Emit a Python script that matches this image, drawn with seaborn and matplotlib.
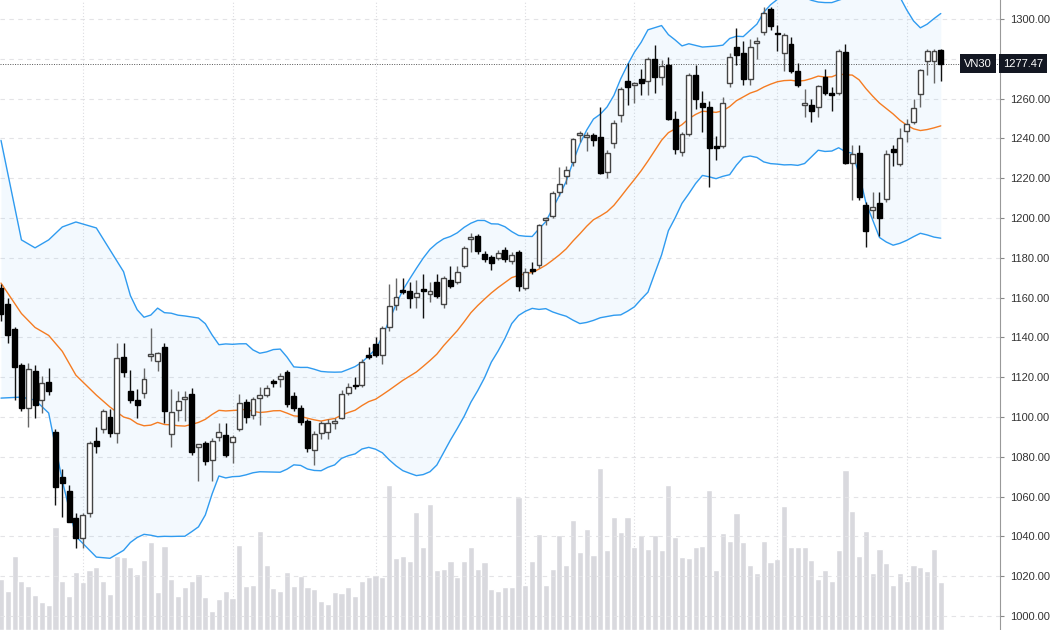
import numpy as np
import pandas as pd
import matplotlib
matplotlib.use("Agg")
import matplotlib.pyplot as plt
import seaborn as sns

opens = [1165,1157,1144,1126,1104.5,1123,1108.5,1117.5,1092.5,1070,1063,1049,1039,1052,1088,1094,1100,1092,1130,1113,
 1108.5,1112,1130.5,1128,1135,1091.5,1103.5,1109,1111.5,1085,1087,1078.5,1090,1091,1087.5,1094,1107.5,1101,1109.5,1111,
 1118,1119,1122.6,1110.5,1104.5,1098,1083.5,1092,1092.5,1097,1099.5,1112,1116,1116,1131,1136.7,1131,1145,1156.3,1164,
 1163.3,1160.3,1164.3,1161.8,1168,1157,1169,1168,1176,1189.5,1191,1182,1180.5,1180,1184,1178.4,1183,1164.8,1174,1176.4,
 1199,1201,1213,1221,1228,1241.7,1240.7,1241.7,1240.7,1223,1237.7,1251.8,1268.8,1267,1270,1269,1280,1271,1277,1249.7,
 1233,1242,1272,1258,1256,1235.7,1236,1268,1286,1283,1270,1288,1293.5,1305,1292.5,1283,1287.5,1274,1257,1257,
 1255.8,1271,1262.3,1262.8,1283.4,1227.6,1232.7,1206.5,1204,1207.5,1209.5,1234.7,1227,1243.7,1248,1262.3,1279,1279,1284.4]
highs = [1167,1160,1145,1127,1127,1126,1120.6,1124.6,1094,1074,1066,1052,1052,1088,1095,1104,1104,1137,1137,1123.6,
 1114,1124.6,1144.7,1132.5,1137,1114,1113,1113,1114.6,1086.5,1088,1089.5,1097,1097,1091,1111.5,1109,1110,1115,1116,
 1119,1122,1123.6,1112.5,1106,1099,1093,1098,1099,1099.5,1113.5,1117,1120,1129,1135,1140,1145.5,1167,1170,1170,
 1168,1169,1172,1168,1172,1171,1176,1176,1186,1192.5,1192,1183.5,1181.5,1184,1185.5,1183,1184,1175,1178,1197,
 1200.5,1213.5,1225.6,1226,1240,1243.5,1243,1242.5,1255.8,1234,1249,1266,1278,1268.5,1275,1281,1287,1279.5,1281,1254,
 1243,1273,1277,1264,1259,1241,1261,1283,1295.5,1289,1290,1291,1306,1306,1297,1293,1291,1278,1265,1260,
 1267,1275,1266,1285,1287.5,1236.7,1236.7,1208,1213,1213,1234,1236.7,1245,1250,1260,1275,1285,1285,1285]
lows = [1148,1137,1108.5,1103,1095,1099.5,1102,1111,1056,1050,1047,1034,1034,1050,1082,1092,1090,1087,1120,1107,
 1099.5,1109.5,1128,1123,1097,1085,1098,1098,1081,1068,1076,1068,1088,1080,1077,1093,1097,1099,1096,1110,
 1115,1115,1105,1103,1096,1082.5,1076,1089,1089,1094,1099,1111,1114,1115,1129,1130,1126.6,1143,1154,1162,
 1155,1155,1150,1158,1160,1155,1165,1167,1175,1183,1182,1178,1174,1179,1178,1177,1163.3,1164,1172,1175,
 1196.5,1200,1211,1217,1226,1238,1233.7,1236,1222,1220,1235,1248,1257,1258,1262,1262,1263,1267,1249,1232,
 1231,1241,1255,1243,1215.6,1229,1235,1266,1277,1267,1267,1280,1292,1294.5,1284,1274,1273,1266,1251,1248,
 1251,1262,1254,1262,1227,1209,1209,1185.4,1200,1191,1208,1226,1226,1238,1247,1256,1272,1268,1269]
closes = [1152,1141,1125,1104.5,1124,1106,1117,1113,1065,1067,1047,1039,1051,1087,1085.5,1103,1092,1129.6,1122.6,1108.5,
 1106,1119,1131.5,1132,1103,1102.5,1108,1109.3,1082.5,1086.5,1078,1088,1092.5,1081,1090,1107,1100,1109,1111,1114.6,
 1117,1120.5,1106.5,1104.5,1097.5,1084.5,1091.5,1097,1097,1097.5,1111.5,1115,1115.5,1127.6,1130,1131,1144.7,1155.8,1160.3,1163,
 1159.8,1162.3,1163.3,1163.3,1161,1170,1166,1173,1185,1190,1183.5,1179.5,1177.5,1182.4,1179.4,1181.4,1166,1173,1173.5,1196.5,
 1199.3,1212.6,1217,1224,1239.7,1241.8,1241.7,1239,1222.6,1232.7,1247.7,1264.8,1265.8,1267.3,1268,1280,1271,1276.4,1249.7,1234.7,
 1242,1272,1260,1256,1235,1235.2,1258,1281,1282,1270,1286,1288.3,1303,1296.5,1292.3,1292,1274,1267,1257.3,1254,
 1266.3,1263,1262,1284,1227.6,1232,1210.6,1193.5,1205.5,1200,1232,1233.2,1240,1247.2,1255.3,1274.4,1284,1284,1277.47]
volumes = [51,39,74,49,44,35,28,25,103,49,34,58,48,60,63,49,36,74,73,63,
 56,70,88,38,84,51,34,43,49,56,33,19,31,39,32,85,44,45,99,65,
 42,39,58,44,54,43,41,29,26,38,37,43,34,49,53,55,53,145,72,74,
 69,118,83,126,60,61,69,53,69,83,61,68,41,39,43,43,133,45,69,96,
 45,61,95,65,110,78,101,75,162,80,113,98,113,83,95,81,95,80,145,93,
 73,72,83,84,140,60,97,89,117,88,65,57,89,68,71,124,83,83,83,70,
 51,60,49,80,160,119,74,99,57,81,67,45,57,49,65,63,59,81,48]

# Bollinger band readings before a full 20-bar window exists
lead_idx = [0, 3, 5, 7, 9, 11, 14, 16, 18]
lead_upper = [1239, 1189, 1185, 1189, 1195.5, 1198, 1195, 1184, 1173]
lead_mid = [1167.3, 1152, 1145, 1141, 1133, 1121, 1111, 1105, 1100]
lead_lower = [1109.5, 1110, 1108.5, 1102, 1068, 1040, 1029.6, 1029, 1033]
month_idx = [12, 34, 55, 77, 93, 114, 133]
y_ticks = list(range(1000, 1301, 20))
last_label = "VN30"

sns.set_theme(style="white")
plt.rcParams['font.family'] = ['Liberation Sans', 'DejaVu Sans']

df = pd.DataFrame(dict(o=opens, h=highs, l=lows, c=closes, v=volumes))
df["i"] = np.arange(len(df))
roll = df["c"].rolling(20)
df["mid"] = roll.mean()
df["sd"] = roll.std(ddof=0)
df["up"] = df["mid"] + 2 * df["sd"]
df["lo"] = df["mid"] - 2 * df["sd"]
band = df[df["i"] >= 19][["i", "up", "mid", "lo"]]
lead = pd.DataFrame(dict(i=lead_idx, up=lead_upper, mid=lead_mid, lo=lead_lower))
band = pd.concat([lead, band], ignore_index=True)

W, H = 1050, 630
fig = plt.figure(figsize=(W / 100, H / 100), dpi=100)
axw = 1000 / W
axv = fig.add_axes([0, 0, axw, 1])
ax = fig.add_axes([0, 0, axw, 1])
ax.patch.set_alpha(0)

step = 6.81
x0 = -1 / step
xlim = (x0, x0 + 1000 / step)
for a in (axv, ax):
    a.set_xlim(*xlim)

axv.bar(df["i"], df["v"], width=0.9, color="#d9d9de", zorder=1)
axv.set_ylim(0, 630)
axv.axis("off")

ax.set_ylim(1000 - 14 / 1.99, 1000 + 616 / 1.99)
for t in y_ticks:
    ax.axhline(t, color="#e3e3e6", lw=0.8, ls=(0, (4, 4)), zorder=0)
for m in month_idx:
    ax.axvline(m, color="#dcdce0", lw=0.8, ls=(0, (1, 2)), zorder=0)

ax.fill_between(band["i"], band["lo"], band["up"], color="#2196f3", alpha=0.05, lw=0, zorder=1)
sns.lineplot(data=band, x="i", y="up", ax=ax, color="#2f9bf0", lw=1, zorder=2)
sns.lineplot(data=band, x="i", y="lo", ax=ax, color="#2f9bf0", lw=1, zorder=2)
sns.lineplot(data=band, x="i", y="mid", ax=ax, color="#f57c22", lw=1, zorder=2)

up = df["c"] >= df["o"]
ax.vlines(df["i"][up], df["l"][up], df["h"][up], color="#666666", lw=1, zorder=3)
ax.vlines(df["i"][~up], df["l"][~up], df["h"][~up], color="#111111", lw=1, zorder=3)
bottoms = np.minimum(df["o"], df["c"])
heights = np.maximum(np.abs(df["c"] - df["o"]), 0.8)
ax.bar(df["i"][up], heights[up], bottom=bottoms[up], width=0.72, color="white",
       edgecolor="#444444", lw=1, zorder=4)
ax.bar(df["i"][~up], heights[~up], bottom=bottoms[~up], width=0.72, color="black",
       edgecolor="black", lw=1, zorder=4)

last = closes[-1]
ax.axhline(last, color="#555555", lw=0.7, ls=(0, (1, 1.5)), zorder=2)

ax.set_xlabel(""); ax.set_ylabel("")
ax.set_xticks([])
ax.yaxis.tick_right()
ax.set_yticks(y_ticks)
labels = ["" if t == 1280 else f"{t:.2f}" for t in y_ticks]
ax.set_yticklabels(labels, fontsize=8, color="#333333")
ax.tick_params(axis="y", length=3, width=0.8, color="#888888", pad=4)
for s in ["top", "left", "bottom"]:
    ax.spines[s].set_visible(False)
ax.spines["right"].set_color("#999999")
ax.spines["right"].set_linewidth(0.8)

ax.text(1 + 3 / 1000, last, f"{last:.2f}", transform=ax.get_yaxis_transform(),
        ha="left", va="center", fontsize=8, color="white",
        bbox=dict(boxstyle="square,pad=0.4", fc="#131722", ec="none"), zorder=10, clip_on=False)
ax.text(1 - 8 / 1000, last, last_label, transform=ax.get_yaxis_transform(),
        ha="right", va="center", fontsize=8, color="white",
        bbox=dict(boxstyle="square,pad=0.4", fc="#131722", ec="none"), zorder=10)

fig.savefig("out.png", dpi=100)
